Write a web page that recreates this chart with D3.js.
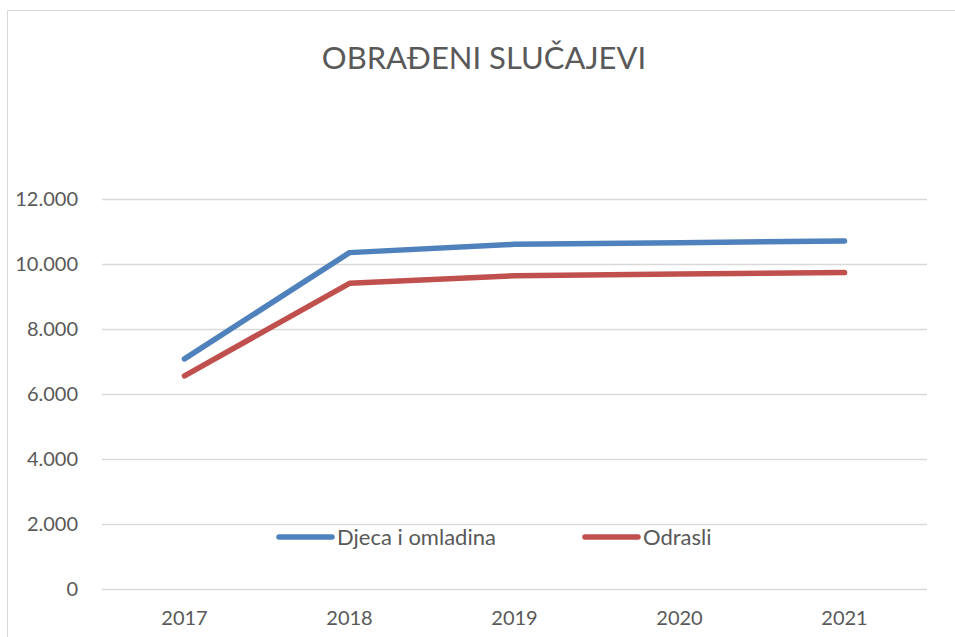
<!DOCTYPE html>
<html>
<head>
<meta charset="utf-8">
<script src="https://cdn.jsdelivr.net/npm/d3@7"></script>
<style>
  body { margin: 0; background: #fff; overflow: hidden; }
  svg { display: block; font-family: Lato, "Open Sans", sans-serif; }
</style>
</head>
<body>
<svg width="955" height="637"></svg>
<script>
const years = ['2017', '2018', '2019', '2020', '2021'];
const djeca = [7080, 10350, 10605, 10655, 10710];
const odrasli = [6560, 9405, 9640, 9690, 9735];
const yTicks = [0, 2000, 4000, 6000, 8000, 10000, 12000];
const seriesNames = ['Djeca i omladina', 'Odrasli'];

const svg = d3.select('svg');
const color = d3.scaleOrdinal()
  .domain(seriesNames)
  .range(['#4f81bd', '#c0504d']);

const series = [
  { name: seriesNames[0], values: djeca },
  { name: seriesNames[1], values: odrasli }
];

const margin = { top: 199, right: 28, bottom: 48, left: 102 };
const width = 955, height = 637;
const innerWidth = width - margin.left - margin.right;
const innerHeight = height - margin.top - margin.bottom;

// chart frame (only top and left edges are visible)
svg.append('path')
  .attr('d', 'M7.5,637V10.5H955')
  .attr('fill', 'none')
  .attr('stroke', '#d9d9d9');

svg.append('text')
  .text('OBRAĐENI SLUČAJEVI')
  .attr('x', 484)
  .attr('y', 69)
  .attr('text-anchor', 'middle')
  .attr('font-size', 31)
  .attr('fill', '#595959');

const g = svg.append('g')
  .attr('transform', `translate(${margin.left},${margin.top})`);

const xScale = d3.scaleBand()
  .domain(years)
  .range([0, innerWidth]);

const yScale = d3.scaleLinear()
  .domain([0, 12000])
  .range([innerHeight, 0]);

// y axis with gridlines
const yAxis = d3.axisLeft(yScale)
  .tickValues(yTicks)
  .tickSize(-innerWidth)
  .tickPadding(24)
  .tickFormat(d => d3.format(',')(d).replace(/,/g, '.'));

const yAxisG = g.append('g').call(yAxis)
  .attr('font-size', 20)
  .attr('font-family', 'Lato, sans-serif');
yAxisG.select('.domain').remove();
yAxisG.selectAll('.tick line').attr('stroke', '#d9d9d9').attr('stroke-width', 1.5);
yAxisG.selectAll('.tick text').attr('fill', '#595959');

// x axis
const xAxis = d3.axisBottom(xScale)
  .tickSize(0)
  .tickPadding(22);

const xAxisG = g.append('g').call(xAxis)
  .attr('transform', `translate(0,${innerHeight})`)
  .attr('font-size', 20)
  .attr('font-family', 'Lato, sans-serif');
xAxisG.select('.domain').remove();
xAxisG.selectAll('.tick text').attr('fill', '#595959');

// lines
const line = d3.line()
  .x((d, i) => xScale(years[i]) + xScale.bandwidth() / 2)
  .y(d => yScale(d));

g.selectAll('path.series').data(series)
  .enter().append('path')
  .attr('class', 'series')
  .attr('d', d => line(d.values))
  .attr('fill', 'none')
  .attr('stroke', d => color(d.name))
  .attr('stroke-width', 5.5)
  .attr('stroke-linecap', 'round')
  .attr('stroke-linejoin', 'round');

// legend
const legendX = [279, 585];
const legendG = svg.append('g')
  .attr('transform', `translate(0, 537)`);
series.forEach((s, i) => {
  legendG.append('line')
    .attr('x1', legendX[i]).attr('x2', legendX[i] + 53)
    .attr('y1', 0).attr('y2', 0)
    .attr('stroke', color(s.name))
    .attr('stroke-width', 5.5)
    .attr('stroke-linecap', 'round');
  legendG.append('text')
    .attr('x', legendX[i] + 58)
    .attr('y', 0)
    .attr('dy', '0.35em')
    .attr('font-size', 22)
    .attr('fill', '#595959')
    .text(s.name);
});
</script>
</body>
</html>
